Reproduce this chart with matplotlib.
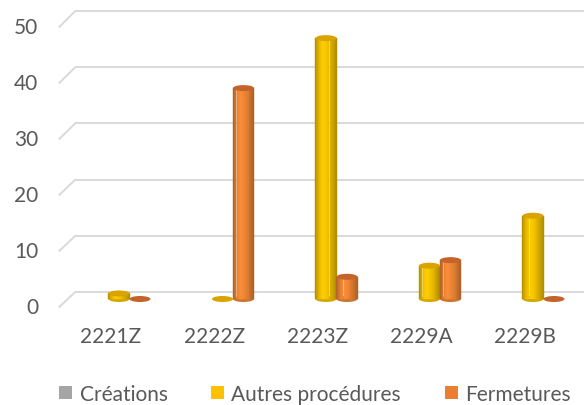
import numpy as np
import matplotlib
matplotlib.use("Agg")
import matplotlib.pyplot as plt
from matplotlib.patches import Ellipse, Patch, ConnectionPatch

categories = ["2221Z", "2222Z", "2223Z", "2229A", "2229B"]
series_names = ["Créations", "Autres procédures", "Fermetures"]
creations = [np.nan, np.nan, np.nan, np.nan, np.nan]
autres = [1, 0, 47, 6, 15]
fermetures = [0, 38, 4, 7, 0]
y_ticks = [0, 10, 20, 30, 40, 50]

colors = {"Créations": "#A5A5A5", "Autres procédures": "#FFC000", "Fermetures": "#ED7D31"}
body_bright = {"Créations": (0.70, 0.70, 0.70), "Autres procédures": (1.0, 0.80, 0.0),
               "Fermetures": (0.98, 0.55, 0.22)}
cap_col = {"Créations": "#8C8C8C", "Autres procédures": "#D9A400", "Fermetures": "#C4632A"}

plt.rcParams['font.family'] = ['Lato', 'DejaVu Sans']
TXT = "#595959"
FS = 15
W, H, DPI = 584, 406, 100
fig = plt.figure(figsize=(W / DPI, H / DPI), dpi=DPI)

def plane(x0, y0, sx, sy):
    """Full-figure axes: category i -> pixel x0 + sx*i, value v -> pixel (from top) y0 - sy*v."""
    ax = fig.add_axes([0, 0, 1, 1])
    ax.set_xlim(-x0 / sx, (W - x0) / sx)
    ax.set_ylim((y0 - H) / sy, y0 / sy)
    ax.axis("off")
    ax.patch.set_alpha(0)
    return ax

back = plane(127, 293, 103.5, 5.62)
bars = plane(119, 300, 103.5, 5.55)
front = plane(111, 308, 103.5, 5.6)

grid_c = "#D9D9D9"
x_left = -0.5
for v in y_ticks:
    back.plot([x_left, 10], [v, v], color=grid_c, lw=1.4, solid_capstyle="butt")
    con = ConnectionPatch(xyA=(x_left, v), coordsA=front.transData,
                          xyB=(x_left, v), coordsB=back.transData,
                          color=grid_c, lw=1.4)
    fig.add_artist(con)
    front.annotate(str(v), (x_left, v), xytext=(-21, 0), textcoords="offset pixels",
                   ha="right", va="center", fontsize=FS, color=TXT)

for i, c in enumerate(categories):
    front.annotate(c, (i, 0), xytext=(0, -29), textcoords="offset pixels",
                   ha="center", va="center", fontsize=FS, color=TXT)

bw = 21 / 103.5
cap_h = 6 / 5.55
N = 24
data = [creations, autres, fermetures]

def shade(rgb, t):
    p = 0.36
    d = (t - p) / (1 - p) if t > p else (p - t) / p
    f = 1.0 - 0.32 * d ** 1.6
    return tuple(min(1, ch * f) for ch in rgb)

for s, (name, vals) in enumerate(zip(series_names, data)):
    for i, v in enumerate(vals):
        if v is None or np.isnan(v):
            continue
        xc = i + (s - 1) * bw
        if v > 0:
            bars.add_patch(Ellipse((xc, 0), bw, cap_h, color=shade(body_bright[name], 0.8), lw=0, zorder=2))
            xs = xc - bw / 2 + (np.arange(N) + 0.5) * bw / N
            for k, xk in enumerate(xs):
                col = shade(body_bright[name], (k + 0.5) / N)
                bars.bar(xk, v, width=bw / N, color=col, edgecolor=col, lw=0.3, zorder=3)
        bars.add_patch(Ellipse((xc, v), bw, cap_h, color=cap_col[name], lw=0, zorder=4))

handles = [Patch(facecolor=colors[n], edgecolor="none") for n in series_names]
fig.legend(handles, series_names, loc="center", bbox_to_anchor=(315 / W, 1 - 395 / H),
           ncol=3, frameon=False, fontsize=FS, labelcolor=TXT,
           handlelength=0.62, handleheight=0.62, handletextpad=0.35, columnspacing=2.1)

fig.savefig("out.png", dpi=DPI)
